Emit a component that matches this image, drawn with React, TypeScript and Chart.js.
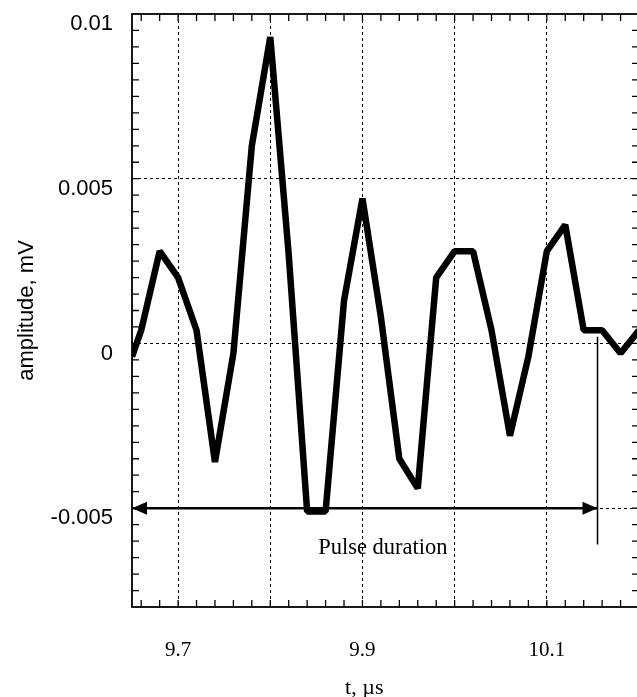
import React, { useEffect, useRef } from "react";
import { Chart, registerables } from "chart.js";

Chart.register(...registerables);

// ---- data ----
const timeUs = [
  9.65, 9.66, 9.68, 9.70, 9.72, 9.74, 9.76, 9.78, 9.80, 9.82, 9.84, 9.86, 9.88, 9.90,
  9.92, 9.94, 9.96, 9.98, 10.00, 10.02, 10.04, 10.06, 10.08, 10.10, 10.12, 10.14, 10.16,
  10.18, 10.20,
];
const amplitudeMv = [
  -0.0004, 0.0004, 0.0028, 0.002, 0.0004, -0.0036, -0.0003, 0.006, 0.0093, 0.0027, -0.0051,
  -0.0051, 0.0013, 0.0044, 0.0008, -0.0035, -0.0044, 0.002, 0.0028, 0.0028, 0.0004, -0.0028,
  -0.0004, 0.0028, 0.0036, 0.0004, 0.0004, -0.0003, 0.0004,
];

const xMin = 9.65;
const xMax = 10.2;
const yMin = -0.008;
const yMax = 0.01;
const xMinorStep = 0.02;
const yMinorStep = 0.0005;
const xTickLabels = ["9.7", "9.9", "10.1"];
const yTickLabels = ["0.01", "0.005", "0", "-0.005"];
const xGridValues = [9.7, 9.8, 9.9, 10.0, 10.1];
const yGridValues = [0.005, 0, -0.005];

const pulseStart = 9.65;
const pulseEnd = 10.155;
const pulseLevel = -0.005;
const markerTop = 0.0002;
const markerBottom = -0.0061;
const pulseLabel = "Pulse duration";
const pulseLabelX = 9.852;
const pulseLabelY = -0.0062;
const xTitle = "t, \u00b5s";
const xTitleAt = 9.902;
const yTitle = "amplitude, mV";

const near = (a: number, b: number) => Math.abs(a - b) < 1e-7;

const zeroPadding = (s: any) => {
  s.paddingTop = 0;
  s.paddingBottom = 0;
  s.paddingLeft = 0;
  s.paddingRight = 0;
};

const framePlugin = {
  id: "frameAndNotes",
  afterDatasetsDraw(chart: any) {
    const { ctx, chartArea: a, scales } = chart;
    const x = scales.x;
    const y = scales.y;
    ctx.save();
    ctx.strokeStyle = "#000";
    ctx.fillStyle = "#000";

    // inward tick marks on all four sides
    ctx.lineWidth = 1.3;
    ctx.beginPath();
    const tl = 7;
    x.ticks.forEach((t: any) => {
      const px = x.getPixelForValue(t.value);
      if (px <= a.left + 1 || px >= a.right - 1) return;
      ctx.moveTo(px, a.bottom);
      ctx.lineTo(px, a.bottom - tl);
      ctx.moveTo(px, a.top);
      ctx.lineTo(px, a.top + tl);
    });
    y.ticks.forEach((t: any) => {
      const py = y.getPixelForValue(t.value);
      if (py <= a.top + 1 || py >= a.bottom - 1) return;
      ctx.moveTo(a.left, py);
      ctx.lineTo(a.left + tl, py);
      ctx.moveTo(a.right, py);
      ctx.lineTo(a.right - tl, py);
    });
    ctx.stroke();

    // frame
    ctx.lineWidth = 1.8;
    ctx.strokeRect(a.left, a.top, a.right - a.left, a.bottom - a.top);

    // arrow heads
    const yP = y.getPixelForValue(pulseLevel);
    const xL = x.getPixelForValue(pulseStart);
    const xR = x.getPixelForValue(pulseEnd);
    ctx.beginPath();
    ctx.moveTo(xL, yP);
    ctx.lineTo(xL + 15, yP - 6.5);
    ctx.lineTo(xL + 15, yP + 6.5);
    ctx.closePath();
    ctx.fill();
    ctx.beginPath();
    ctx.moveTo(xR, yP);
    ctx.lineTo(xR - 15, yP - 6.5);
    ctx.lineTo(xR - 15, yP + 6.5);
    ctx.closePath();
    ctx.fill();

    // pulse label
    ctx.font = '22.5px "Liberation Serif"';
    ctx.textAlign = "left";
    ctx.textBaseline = "middle";
    ctx.fillText(pulseLabel, x.getPixelForValue(pulseLabelX), y.getPixelForValue(pulseLabelY));

    // x axis title
    ctx.font = '22px "Liberation Serif"';
    ctx.textAlign = "center";
    ctx.fillText(xTitle, x.getPixelForValue(xTitleAt), a.bottom + 81);
    ctx.restore();
  },
};

export default function App() {
  const ref = useRef<HTMLCanvasElement>(null);
  useEffect(() => {
    const canvas = ref.current!;
    const chart = new Chart(canvas, {
      type: "line",
      data: {
        datasets: [
          {
            data: timeUs.map((t, i) => ({ x: t, y: amplitudeMv[i] })),
            borderColor: "#000",
            borderWidth: 6.5,
            borderJoinStyle: "bevel",
            borderCapStyle: "butt",
            pointRadius: 0,
            tension: 0,
            clip: 0,
          },
          {
            data: [
              { x: pulseStart, y: pulseLevel },
              { x: pulseEnd, y: pulseLevel },
            ],
            borderColor: "#000",
            borderWidth: 2.5,
            pointRadius: 0,
            clip: 0,
          },
          {
            data: [
              { x: pulseEnd, y: markerTop },
              { x: pulseEnd, y: markerBottom },
            ],
            borderColor: "#000",
            borderWidth: 1.5,
            pointRadius: 0,
            clip: 0,
          },
        ],
      } as any,
      options: {
        animation: false,
        responsive: false,
        events: [],
        layout: { autoPadding: false, padding: { top: 14, left: 0, right: 0, bottom: 0 } },
        plugins: { legend: { display: false }, tooltip: { enabled: false } },
        scales: {
          x: {
            type: "linear",
            min: xMin,
            max: xMax,
            afterFit: (s: any) => {
              s.height = 90;
              zeroPadding(s);
            },
            border: { display: false, dash: [3, 3] },
            grid: {
              drawTicks: false,
              lineWidth: 1,
              color: (c: any) =>
                c.tick && xGridValues.some((v) => near(v, c.tick.value)) ? "#000" : "rgba(0,0,0,0)",
            },
            ticks: {
              stepSize: xMinorStep,
              includeBounds: false,
              autoSkip: false,
              maxRotation: 0,
              minRotation: 0,
              padding: 31,
              color: "#000",
              font: { family: "Liberation Serif", size: 21 },
              callback: (v: any) => xTickLabels.find((l) => near(Number(l), Number(v))) ?? "",
            },
          },
          y: {
            type: "linear",
            min: yMin,
            max: yMax,
            afterFit: (s: any) => {
              s.width = 132;
              zeroPadding(s);
            },
            border: { display: false, dash: [3, 3] },
            grid: {
              drawTicks: false,
              lineWidth: 1,
              color: (c: any) =>
                c.tick && yGridValues.some((v) => near(v, c.tick.value)) ? "#000" : "rgba(0,0,0,0)",
            },
            ticks: {
              stepSize: yMinorStep,
              autoSkip: false,
              padding: 19,
              labelOffset: 10,
              color: "#000",
              font: { family: "Liberation Sans", size: 22 },
              callback: (v: any) => yTickLabels.find((l) => near(Number(l), Number(v))) ?? "",
            },
            title: {
              display: true,
              text: yTitle,
              color: "#000",
              font: { family: "Liberation Sans", size: 22 },
              padding: { top: 14, bottom: 0 },
            },
          },
        },
      } as any,
      plugins: [framePlugin],
    });
    return () => chart.destroy();
  }, []);
  return (
    <div
      style={{
        position: "fixed",
        left: 0,
        top: 0,
        width: 637,
        height: 697,
        overflow: "hidden",
        background: "#fff",
      }}
    >
      <canvas ref={ref} width={639} height={697} style={{ display: "block" }} />
    </div>
  );
}
